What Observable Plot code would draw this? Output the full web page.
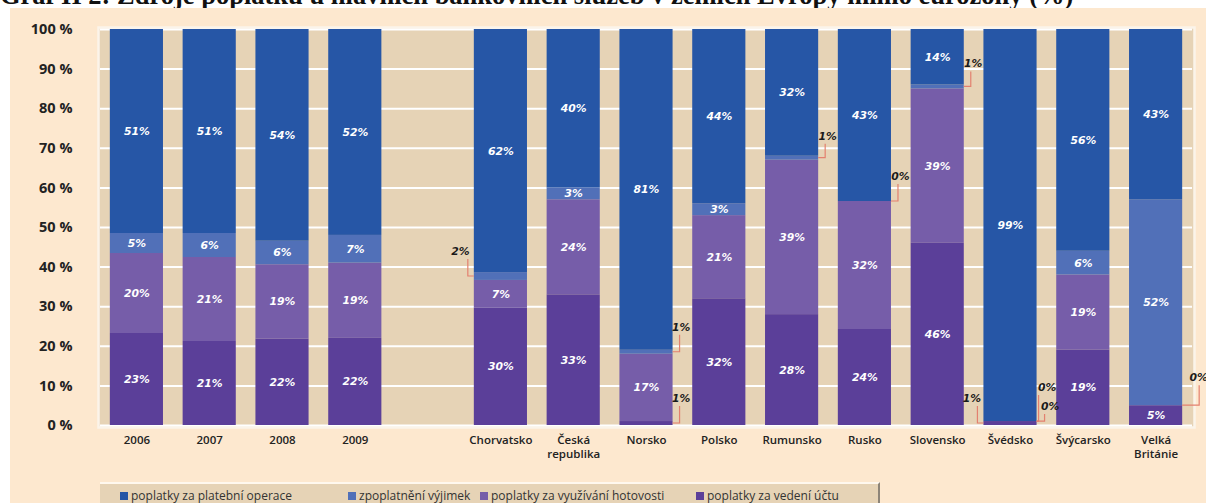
<!DOCTYPE html>
<html><head><meta charset="utf-8">
<script src="https://cdn.jsdelivr.net/npm/d3@7"></script>
<script src="https://cdn.jsdelivr.net/npm/@observablehq/plot@0.6"></script>
<style>
html,body{margin:0;padding:0}
body{width:1206px;height:503px;overflow:hidden;position:relative;background:#fff;font-family:"Open Sans",sans-serif}
#title{position:absolute;left:0;top:-18px;font:bold 26.5px/26.5px "Liberation Serif","Times New Roman",serif;white-space:nowrap;color:#111}
#panel{position:absolute;left:10px;top:8px;width:1196px;height:495px;background:#fde8cf}
#chart{position:absolute;left:0;top:0;width:1196px}
#legend{position:absolute;left:90px;top:474px;width:780px;height:40px;background:#e6d3b6;border-top:2px solid #fff8ee;border-right:2px solid #8d8478;box-sizing:border-box}
.li{position:absolute;top:3px;display:flex;align-items:center;font-size:12px;color:#333;white-space:nowrap}
.sw{width:8px;height:8px;margin-right:3px}
</style>
</head><body>
<div id="title">Graf II 2: Zdroje poplatků u hlavních bankovních služeb v zemích Evropy mimo eurozóny (%)</div>
<div id="panel"><div id="chart"></div><div id="legend"></div></div>
<script>
// ---------------- data ----------------
const categories = ["2006","2007","2008","2009","Chorvatsko","Česká republika","Norsko","Polsko","Rumunsko","Rusko","Slovensko","Švédsko","Švýcarsko","Velká Británie"];
const xTickLabels = ["2006","2007","2008","2009","Chorvatsko","Česká\nrepublika","Norsko","Polsko","Rumunsko","Rusko","Slovensko","Švédsko","Švýcarsko","Velká\nBritánie"];
const seriesNames = ["poplatky za platební operace","zpoplatnění výjimek","poplatky za využívání hotovosti","poplatky za vedení účtu"];
const platebniOperace    = [51,51,54,52,62,40,81,44,32,43,14,99,56,43];
const zpoplatneniVyjimek = [ 5, 6, 6, 7, 2, 3, 1, 3, 1, 0, 1, 0, 6,52];
const vyuzivaniHotovosti = [20,21,19,19, 7,24,17,21,39,32,39, 0,19, 0];
const vedeniUctu         = [23,21,22,22,30,33, 1,32,28,24,46, 1,19, 5];
const yTicks = [0,10,20,30,40,50,60,70,80,90,100];
// small segments labelled outside the bar: category, series index
const calloutCats   = ["Chorvatsko","Norsko","Norsko","Rumunsko","Rusko","Slovensko","Švédsko","Švédsko","Švédsko","Velká Británie"];
const calloutSeries = [1,1,3,1,1,1,3,2,1,2];

// ---------------- styles ----------------
const seriesColors = ["#2656a6","#5170b8","#765da9","#5b3f99"];
const calloutStyle = [ // side, leader offset from bar edge, label lift (px), label shift
  {side:-1, lead:6, dy:-25, lx:8},
  {side: 1, lead:7, dy:-25, lx:1},
  {side: 1, lead:7, dy:-25, lx:1},
  {side: 1, lead:7, dy:-22, lx:2},
  {side: 1, lead:7, dy:-25, lx:2},
  {side: 1, lead:7, dy:-23, lx:2},
  {side:-1, lead:6, dy:-25, lx:6},
  {side: 1, lead:2, dy:-34, lx:8},
  {side: 1, lead:8, dy:-15, lx:5},
  {side: 1, lead:17, dy:-28, lx:-1}
];

const valuesBySeries = [platebniOperace, zpoplatneniVyjimek, vyuzivaniHotovosti, vedeniUctu];
const stackOrder = [3,2,1,0];
const rows = [];
categories.forEach((cat,i)=>{
  const total = d3.sum(valuesBySeries, s=>s[i]);
  let cum = 0;
  for (const k of stackOrder) {
    const v = valuesBySeries[k][i];
    const y1 = cum/total*100; cum += v; const y2 = cum/total*100;
    rows.push({cat, k, series: seriesNames[k], v, y1, y2, mid:(y1+y2)/2});
  }
});
const callouts = calloutCats.map((c,j)=>({row: rows.find(r=>r.cat===c && r.k===calloutSeries[j]), ...calloutStyle[j]}));

const W=1196, H=465, mL=90, mR=14, mT=21, mB=48;
const GAP = "__gap__";
const domain = [...categories.slice(0,4), GAP, ...categories.slice(4)];
const step=(W-mL-mR)/domain.length;
const barW = step*0.73;
const inset = (step-barW)/2;
const labelMap = new Map(categories.map((c,i)=>[c, xTickLabels[i]]));
const lblFont = {fontFamily:"DejaVu Sans", fontWeight:"bold", fontStyle:"italic", fontSize:10.8};

const leaders = (index, {x, y}) => {
  const bwp = (x && typeof x.bandwidth === "function") ? x.bandwidth() : step;
  const g = d3.create("svg:g").attr("fill","none").attr("stroke","#e3806f").attr("stroke-width",1.2);
  for (const c of callouts) {
    const r = c.row;
    const edge = x(r.cat) + bwp/2 + c.side*barW/2;
    const vx = edge + c.side*c.lead;
    const ay = y(r.mid);
    g.append("path").attr("d", `M${edge},${ay}H${vx}V${ay + c.dy + 8}`);
  }
  return g.node();
};

const chart = Plot.plot({
  width: W, height: H, marginLeft: mL, marginRight: mR, marginTop: mT, marginBottom: mB,
  style: {background:"transparent", overflow:"visible"},
  x: {domain, padding: 0, round: false, axis: null},
  y: {domain: [0,100], axis: null},
  color: {domain: seriesNames, range: seriesColors},
  marks: [
    Plot.frame({fill:"#e6d3b6", stroke:"#fbf4ea", strokeWidth:2.5, inset:-2}),
    Plot.ruleY(yTicks, {stroke:"#ffffff", strokeWidth:2}),
    Plot.barY(rows, {x:"cat", y1:"y1", y2:"y2", fill:"series", insetLeft: inset, insetRight: inset}),
    Plot.axisY({ticks: yTicks, tickFormat: d => d + " %", tickSize:0, tickPadding:28, fontSize:14.5, fontWeight:"bold", fontFamily:"Open Sans", color:"#222", label:null}),
    Plot.axisX({ticks: domain, tickFormat: d => labelMap.get(d) ?? "", tickSize:0, tickPadding:9, fontSize:11.5, fontWeight:600, fontFamily:"Open Sans", lineHeight:1.2, color:"#222", label:null}),
    Plot.text(rows.filter(r=>r.v>2), {x:"cat", y:"mid", text: r=>r.v+"%", fill:"#fff", ...lblFont}),
    leaders,
    ...callouts.map(c => Plot.text([c.row], {x:"cat", y:"mid", text: r=>r.v+"%", fill:"#1a1a1a", dx: c.side*(barW/2 + c.lead + c.lx), dy: c.dy, ...lblFont}))
  ]
});
document.getElementById("chart").append(chart);

// legend
const legendX = [20,248,380,596];
const leg = document.getElementById("legend");
seriesNames.forEach((s,i)=>{
  const d = document.createElement("div");
  d.className="li"; d.style.left = legendX[i]+"px";
  d.innerHTML = `<span class="sw" style="background:${seriesColors[i]}"></span><span>${s}</span>`;
  leg.append(d);
});
</script>
</body></html>
